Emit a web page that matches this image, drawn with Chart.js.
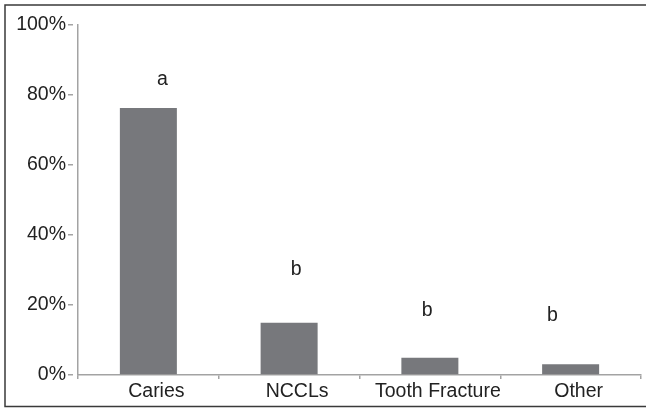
<!DOCTYPE html>
<html>
<head>
<meta charset="utf-8">
<script src="https://cdn.jsdelivr.net/npm/chart.js@4"></script>
<style>
    html, body { margin: 0; padding: 0; background: #fff; }
    #wrap { width: 646px; height: 409px; position: relative; }
</style>
</head>
<body>
<div id="wrap"><canvas id="chart"></canvas></div>
<script>
const categories = ['Caries', 'NCCLs', 'Tooth Fracture', 'Other'];
const percentages = [76.3, 14.9, 4.9, 3.1];
const letters = ['a', 'b', 'b', 'b'];
const letterHeights = [84.3, 30.0, 18.3, 17.1];
const letterShifts = [0.1, 0.05, -0.02, -0.13];
const yTicks = [0, 20, 40, 60, 80, 100];

const FONT = '"Liberation Sans", Arial, sans-serif';
const TEXT = '#222222';
const AXIS = '#a3a3a3';

// frame around the figure (no right edge in the original)
const framePlugin = {
    id: 'frame',
    beforeDraw(chart) {
        const ctx = chart.ctx;
        ctx.save();
        ctx.strokeStyle = '#3a3a3a';
        ctx.lineWidth = 1.5;
        ctx.beginPath();
        ctx.moveTo(646, 5);
        ctx.lineTo(5, 5);
        ctx.lineTo(5, 406.5);
        ctx.lineTo(646, 406.5);
        ctx.stroke();
        ctx.restore();
    }
};

// significance letters above the bars
const letterPlugin = {
    id: 'letters',
    afterDatasetsDraw(chart) {
        const ctx = chart.ctx;
        const x = chart.scales.x;
        const y = chart.scales.y;
        ctx.save();
        ctx.font = '19.5px ' + FONT;
        ctx.fillStyle = TEXT;
        ctx.textAlign = 'center';
        ctx.textBaseline = 'middle';
        letters.forEach((letter, i) => {
            const step = x.getPixelForValue(1) - x.getPixelForValue(0);
            ctx.fillText(letter, x.getPixelForValue(i) + letterShifts[i] * step, y.getPixelForValue(letterHeights[i]));
        });
        ctx.restore();
    }
};

new Chart(document.getElementById('chart'), {
    type: 'bar',
    data: {
        labels: categories,
        datasets: [{
            data: percentages,
            backgroundColor: '#77787c',
            borderWidth: 0,
            categoryPercentage: 1,
            barPercentage: 0.405
        }]
    },
    options: {
        responsive: true,
        maintainAspectRatio: false,
        animation: false,
        layout: { padding: { top: 25, right: 5, left: 0, bottom: 0 } },
        plugins: {
            legend: { display: false },
            tooltip: { enabled: false }
        },
        scales: {
            x: {
                afterFit: s => { s.height = 34; },
                grid: {
                    offset: true,
                    drawOnChartArea: false,
                    color: AXIS,
                    tickLength: 4,
                    lineWidth: 1.5
                },
                border: { color: AXIS, width: 1.5 },
                ticks: {
                    color: TEXT,
                    padding: 1,
                    labelOffset: 8,
                    font: { family: FONT, size: 19.5 }
                }
            },
            y: {
                min: 0,
                max: 100,
                afterFit: s => { s.width = 78; },
                afterBuildTicks: s => { s.ticks = yTicks.map(v => ({ value: v })); },
                grid: {
                    drawOnChartArea: false,
                    color: AXIS,
                    tickLength: 10,
                    tickBorderDash: [5, 5],
                    lineWidth: 1.5
                },
                border: { color: AXIS, width: 1.5 },
                ticks: {
                    color: TEXT,
                    padding: 2,
                    font: { family: FONT, size: 19.5 },
                    callback: v => v + '%'
                }
            }
        }
    },
    plugins: [framePlugin, letterPlugin]
});
</script>
</body>
</html>
